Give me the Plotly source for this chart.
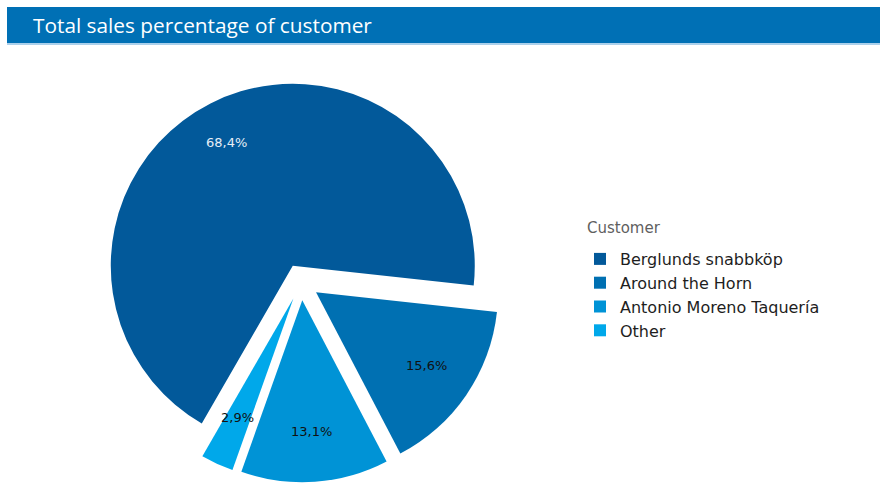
import math
import plotly.graph_objects as go

# Sales share by customer (percent of total)
customers = ["Berglunds snabbköp", "Around the Horn", "Antonio Moreno Taquería", "Other"]
shares = [68.4, 15.6, 13.1, 2.9]
slice_colors = ["#02599a", "#0070b2", "#0093d6", "#00a8ea"]
label_colors = ["#e6eef7", "#111111", "#111111", "#111111"]

W, H = 883, 483
CX, CY, R = 301, 282, 182      # pie centre and radius in pixels
PULL = 0.10
ROTATION = 210                 # start angle of the first slice, clockwise from 12 o'clock

half = R * (1 + PULL)
dom_x = [(CX - half) / W, (CX + half) / W]
dom_y = [1 - (CY + half) / H, 1 - (CY - half) / H]

fig = go.Figure(go.Pie(
    labels=customers,
    values=shares,
    sort=False,
    direction="clockwise",
    rotation=ROTATION,
    pull=[PULL] * len(shares),
    marker=dict(colors=slice_colors, line=dict(width=0)),
    textinfo="none",
    hoverinfo="label+percent",
    domain=dict(x=dom_x, y=dom_y),
))

# percentage labels placed along each slice's mid-angle
total = sum(shares)
start = ROTATION
annotations = []
for val, col in zip(shares, label_colors):
    span = 360 * val / total
    mid = math.radians(start + span / 2)
    start += span
    big = val > 50
    d = R * (0.86 if big else 0.835)
    px = CX + d * math.sin(mid) - (4 if big else 0)
    py = CY - d * math.cos(mid) - (0 if big else 2)
    annotations.append(dict(
        x=px / W, y=1 - py / H, xref="paper", yref="paper",
        xanchor="center", yanchor="middle",
        text=f"{val:.1f}%".replace(".", ","), showarrow=False,
        font=dict(family="DejaVu Sans", size=13, color=col),
    ))

# header bar title
annotations.append(dict(
    x=31 / W, y=1 - 25 / H, xref="paper", yref="paper", xanchor="left", yanchor="middle",
    text="Total sales percentage of customer", showarrow=False,
    font=dict(family="Open Sans", size=20.8, color="white"),
))

# legend heading
annotations.append(dict(
    x=585 / W, y=1 - 228 / H, xref="paper", yref="paper", xanchor="left", yanchor="middle",
    text="Customer", showarrow=False,
    font=dict(family="DejaVu Sans", size=15, color="#5f5f5f"),
))

fig.update_layout(
    width=W, height=H,
    margin=dict(l=0, r=0, t=0, b=0),
    paper_bgcolor="white",
    plot_bgcolor="white",
    showlegend=True,
    legend=dict(
        font=dict(family="DejaVu Sans", size=16, color="#1e1e1e"),
        x=580 / W, y=1 - 242 / H, xanchor="left", yanchor="top",
        tracegroupgap=0, itemwidth=30,
    ),
    shapes=[
        dict(type="rect", xref="paper", yref="paper",
             x0=7 / W, x1=880 / W, y0=1 - 43 / H, y1=1 - 7 / H,
             fillcolor="#0070b5", line=dict(width=0), layer="below"),
        dict(type="line", xref="paper", yref="paper",
             x0=7 / W, x1=880 / W, y0=1 - 44 / H, y1=1 - 44 / H,
             line=dict(color="#8fc0e4", width=1.5)),
    ],
    annotations=annotations,
)

fig.write_html("out.html")
